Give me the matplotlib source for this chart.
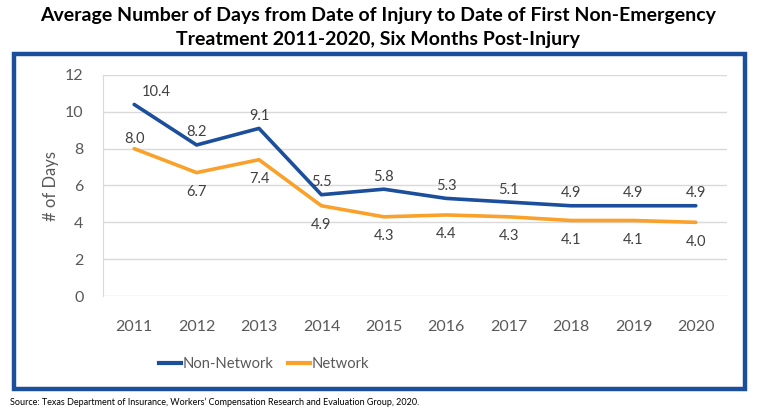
import matplotlib
matplotlib.use("Agg")
import matplotlib.pyplot as plt
from matplotlib.patches import Rectangle
from matplotlib.lines import Line2D

years = ["2011", "2012", "2013", "2014", "2015", "2016", "2017", "2018", "2019", "2020"]
non_network = [10.4, 8.2, 9.1, 5.5, 5.8, 5.3, 5.1, 4.9, 4.9, 4.9]
network = [8.0, 6.7, 7.4, 4.9, 4.3, 4.4, 4.3, 4.1, 4.1, 4.0]
y_ticks = [0, 2, 4, 6, 8, 10, 12]

BLUE = "#1B4E9B"
ORANGE = "#F9A12A"
GRAY = "#595959"
LABEL = "#404040"

plt.rcParams["font.family"] = ["Lato", "DejaVu Sans"]

W, H = 757, 415
fig = plt.figure(figsize=(W / 100, H / 100), dpi=100)
ax = fig.add_axes([103 / W, 1 - 296 / H, (727 - 103) / W, (296 - 75) / H])

x = list(range(len(years)))
ax.plot(x, non_network, color=BLUE, lw=2.6, solid_capstyle="round", zorder=3)
ax.plot(x, network, color=ORANGE, lw=2.6, solid_capstyle="round", zorder=3)

ax.set_xlim(-0.5, len(years) - 0.5)
ax.set_ylim(0, 12)
ax.set_yticks(y_ticks)
ax.set_xticks(x)
ax.set_xticklabels(years)
ax.grid(axis="y", color="#D9D9D9", lw=1)
ax.set_axisbelow(True)
for s in ["top", "right", "bottom"]:
    ax.spines[s].set_visible(False)
ax.spines["left"].set_color("#D9D9D9")
ax.tick_params(axis="both", length=0, labelsize=11.5, colors=GRAY)
ax.tick_params(axis="y", pad=14)
ax.tick_params(axis="x", pad=17)
ax.set_ylabel("# of Days", fontsize=12, color=GRAY, labelpad=4)

for i, v in enumerate(non_network):
    dx = 16 if i == 0 else 0
    ax.annotate(f"{v:.1f}", (i, v), xytext=(dx, 9), textcoords="offset points",
                ha="center", va="center", fontsize=10.5, color=LABEL)
for i, v in enumerate(network):
    dy = 7 if i == 0 else -14
    ax.annotate(f"{v:.1f}", (i, v), xytext=(0, dy), textcoords="offset points",
                ha="center", va="center", fontsize=10.5, color=LABEL)

handles = [Line2D([], [], color=BLUE, lw=3), Line2D([], [], color=ORANGE, lw=3)]
fig.legend(handles, ["Non-Network", "Network"], loc="center",
           bbox_to_anchor=(264 / W, 1 - 364 / H), ncol=2, frameon=False,
           fontsize=10.6, labelcolor=GRAY, handlelength=1.5, handletextpad=0.1,
           columnspacing=1.0, borderpad=0)

fig.patches.append(Rectangle((14 / W, 1 - 389 / H), (745 - 14) / W, (389 - 54) / H,
                             transform=fig.transFigure, fill=False, ec=BLUE, lw=3.2))

fig.text(378 / W, 1 - 16 / H, "Average Number of Days from Date of Injury to Date of First Non-Emergency",
         ha="center", va="center", fontsize=14, fontweight="bold", color="black")
fig.text(378 / W, 1 - 40 / H, "Treatment 2011-2020, Six Months Post-Injury",
         ha="center", va="center", fontsize=14, fontweight="bold", color="black")
fig.text(10 / W, 1 - 402 / H,
         "Source: Texas Department of Insurance, Workers\u2019 Compensation Research and Evaluation Group, 2020.",
         ha="left", va="center", fontsize=6.5, color="black")

fig.savefig("out.png", dpi=100)
